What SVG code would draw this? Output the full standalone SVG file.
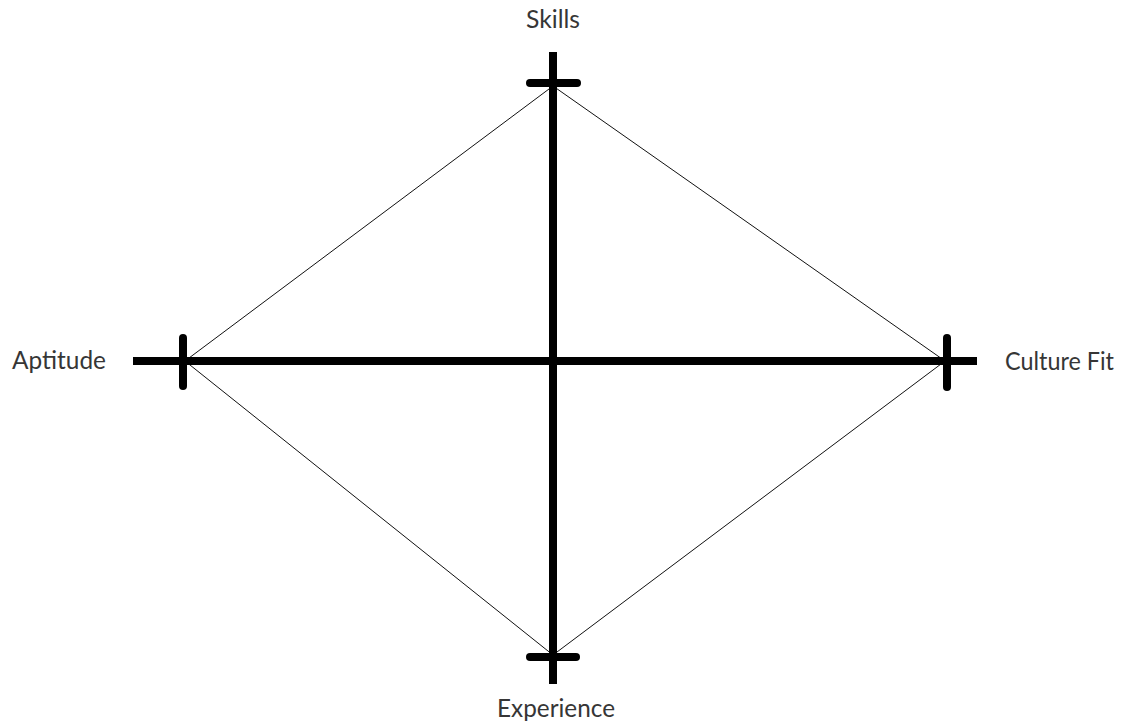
<svg xmlns="http://www.w3.org/2000/svg" width="1133" height="726" viewBox="0 0 1133 726">
  <style>
    .axis { stroke: #000; stroke-width: 8; fill: none; stroke-linecap: butt; }
    .tick { stroke: #000; stroke-width: 8; fill: none; stroke-linecap: round; }
    .edge { stroke: #111; stroke-width: 1; fill: none; }
    .label { font-family: Lato, "Open Sans", "Liberation Sans", sans-serif; font-size: 25px; fill: #363636; }
  </style>
  <rect x="0" y="0" width="1133" height="726" fill="#fff"/>
  <g id="connectors">
    <polygon class="edge" points="553,86 185,361 553,655 945,361"/>
  </g>
  <g id="axes">
    <line class="axis" x1="553" y1="52" x2="553" y2="684"/>
    <line class="axis" x1="133" y1="361" x2="977" y2="361"/>
  </g>
  <g id="skills">
    <line class="tick" x1="530" y1="83" x2="577" y2="83"/>
    <text class="label" x="553" y="28" text-anchor="middle" textLength="54" lengthAdjust="spacingAndGlyphs">Skills</text>
  </g>
  <g id="experience">
    <line class="tick" x1="530" y1="657" x2="576" y2="657"/>
    <text class="label" x="556" y="717" text-anchor="middle" textLength="118" lengthAdjust="spacingAndGlyphs">Experience</text>
  </g>
  <g id="aptitude">
    <line class="tick" x1="183" y1="338" x2="183" y2="386"/>
    <text class="label" x="12" y="369" textLength="94" lengthAdjust="spacingAndGlyphs">Aptitude</text>
  </g>
  <g id="culture-fit">
    <line class="tick" x1="947" y1="338" x2="947" y2="387"/>
    <text class="label" x="1005" y="370" textLength="109" lengthAdjust="spacingAndGlyphs">Culture Fit</text>
  </g>
</svg>
